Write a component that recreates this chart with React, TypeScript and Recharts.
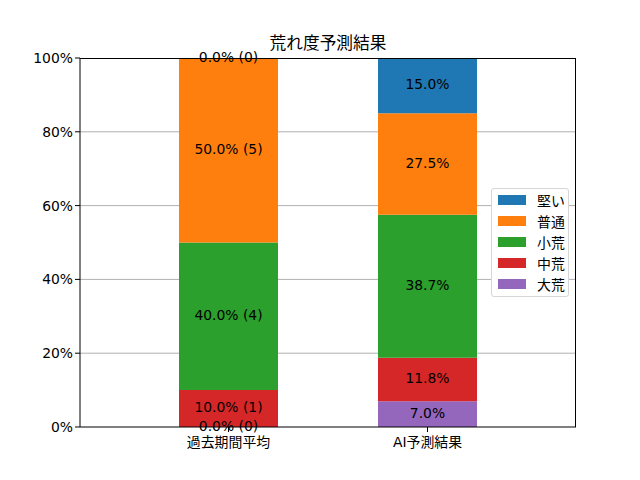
import React from 'react'
import {
  ComposedChart,
  Bar,
  Scatter,
  XAxis,
  YAxis,
  CartesianGrid
} from 'recharts'

const categories = ['過去期間平均', 'AI予測結果']
const seriesNames = ['大荒', '中荒', '小荒', '普通', '堅い']
const seriesColors = ['#9467bd', '#d62728', '#2ca02c', '#ff7f0e', '#1f77b4']
const pastPercent = [0, 10, 40, 50, 0]
const pastCounts = [0, 1, 4, 5, 0]
const aiPercent = [7.0, 11.8, 38.7, 27.5, 15.0]
const yTicks = [0, 20, 40, 60, 80, 100]

// one row per category; mid_* holds the centre of each stacked segment for the labels
const data = categories.map((name, i) => {
  const values = i === 0 ? pastPercent : aiPercent
  const row: Record<string, any> = { name }
  let base = 0
  seriesNames.forEach((s, j) => {
    row[s] = values[j]
    row['mid_' + s] = base + values[j] / 2
    base += values[j]
  })
  return row
})

const fontFamily = '"DejaVu Sans", "Noto Sans CJK JP", sans-serif'

const makeLabel = (seriesIndex: number) => (props: any) => {
  const { cx, cy, payload } = props
  const text =
    payload.name === categories[0]
      ? `${pastPercent[seriesIndex].toFixed(1)}% (${pastCounts[seriesIndex]})`
      : `${aiPercent[seriesIndex].toFixed(1)}%`
  return (
    <text
      x={cx}
      y={cy}
      dy={-1.5}
      textAnchor="middle"
      dominantBaseline="central"
      fontSize={13.9}
      fontFamily={fontFamily}
      fill="#000"
    >
      {text}
    </text>
  )
}

const LegendBox = () => (
  <div
    style={{
      position: 'absolute',
      left: 491,
      top: 188,
      width: 78,
      background: '#fff',
      border: '1px solid #d6d6d6',
      borderRadius: 3,
      padding: '0 0 2px 0',
      fontFamily,
      fontSize: 13.9,
      boxSizing: 'border-box'
    }}
  >
    {[...seriesNames].reverse().map((s, i) => {
      const color = seriesColors[seriesNames.length - 1 - i]
      return (
        <div key={s} style={{ display: 'flex', alignItems: 'center', height: 21, paddingLeft: 6 }}>
          <span style={{ width: 28, height: 10, background: color, marginRight: 11 }} />
          <span>{s}</span>
        </div>
      )
    })}
  </div>
)

export default function App() {
  return (
    <div style={{ position: 'absolute', left: 0, top: 0, width: 640, height: 480, background: '#fff' }}>
      <div
        style={{
          position: 'absolute',
          top: 33,
          left: 80,
          width: 496,
          textAlign: 'center',
          fontFamily,
          fontSize: 16.7,
          lineHeight: '20px'
        }}
      >
        荒れ度予測結果
      </div>
      <ComposedChart
        width={640}
        height={480}
        data={data}
        margin={{ top: 58, right: 64, left: 0, bottom: 0 }}
      >
        <CartesianGrid stroke="#b0b0b0" vertical={false} horizontalValues={[20, 40, 60, 80]} />
        <XAxis
          dataKey="name"
          height={53}
          padding={{ left: 49, right: 49 }}
          tickLine={{ stroke: '#000' }}
          tickSize={5}
          axisLine={{ stroke: '#000' }}
          tick={{ fill: '#000', fontSize: 13.9, fontFamily, dy: 3 }}
        />
        <YAxis
          width={80}
          domain={[0, 100]}
          ticks={yTicks}
          tickFormatter={(v) => `${v}%`}
          tickSize={5}
          tickLine={{ stroke: '#000' }}
          axisLine={{ stroke: '#000' }}
          tick={{ fill: '#000', fontSize: 13.9, fontFamily }}
        />
        {seriesNames.map((s, j) => (
          <Bar
            key={s}
            dataKey={s}
            stackId="a"
            fill={seriesColors[j]}
            barSize={99}
            isAnimationActive={false}
          />
        ))}
        {seriesNames.map((s, j) => (
          <Scatter
            key={'lbl' + s}
            dataKey={'mid_' + s}
            shape={makeLabel(j)}
            isAnimationActive={false}
          />
        ))}
      </ComposedChart>
      {/* top and right spines */}
      <div
        style={{
          position: 'absolute',
          left: 80,
          top: 57.5,
          width: 496,
          height: 369,
          borderTop: '1px solid #000',
          borderRight: '1px solid #000',
          boxSizing: 'border-box',
          pointerEvents: 'none'
        }}
      />
      <LegendBox />
    </div>
  )
}
